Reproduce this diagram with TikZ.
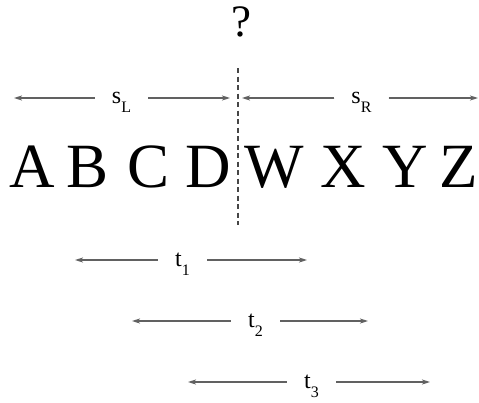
\documentclass[tikz,border=0pt]{standalone}
\usepackage{fontspec}
\setmainfont{Liberation Serif}
\usetikzlibrary{arrows.meta}

\newcommand{\lowsub}[1]{\smash{\raisebox{-9pt}{\fontsize{16}{16}\selectfont #1}}}

\begin{document}
\begin{tikzpicture}[x=1pt, y=-1pt, >={Stealth[length=8pt, width=5pt, inset=2pt]},
  spanlabel/.style={inner xsep=17pt, inner ysep=0pt, font=\fontsize{24}{24}\selectfont},
  spanarrow/.style={->, line width=1.3pt, draw=black!62, fill=black!62},
  letter/.style={anchor=base, inner sep=0pt, font=\fontsize{63}{63}\selectfont}]

\definecolor{splitcolor}{RGB}{70, 70, 70}

\useasboundingbox (0, 0) rectangle (479, 402);

\node[anchor=base, inner sep=0pt, font=\fontsize{45}{45}\selectfont] (query) at (241, 36) {?};

% the split between left and right halves
\coordinate (splittop) at (238, 68);
\coordinate (splitbot) at (238, 225);
\draw[dashed, dash pattern=on 5pt off 3.5pt, line width=1.1pt, splitcolor] (splittop) -- (splitbot);

% letters
\node[letter] (lA) at (32, 187) {A};
\node[letter] (lB) at (88, 187) {B};
\node[letter] (lC) at (149, 187) {C};
\node[letter] (lD) at (208, 187) {D};
\node[letter] (lW) at (274, 187) {W};
\node[letter] (lX) at (343, 187) {X};
\node[letter] (lY) at (405, 187) {Y};
\node[letter] (lZ) at (459, 187) {Z};

% spans above
\node[spanlabel] (sL) at (121.5, 98) {s\lowsub{L}};
\coordinate (sLleft) at (14, 98);
\coordinate (sLright) at (230, 98);
\draw[spanarrow] (sL.west) -- (sLleft);
\draw[spanarrow] (sL.east) -- (sLright);

\node[spanlabel] (sR) at (361.5, 98) {s\lowsub{R}};
\coordinate (sRleft) at (242, 98);
\coordinate (sRright) at (478, 98);
\draw[spanarrow] (sR.west) -- (sRleft);
\draw[spanarrow] (sR.east) -- (sRright);

% spans below
\node[spanlabel] (t1) at (182.5, 260) {t\lowsub{1}};
\coordinate (t1left) at (75, 260);
\coordinate (t1right) at (307, 260);
\draw[spanarrow] (t1.west) -- (t1left);
\draw[spanarrow] (t1.east) -- (t1right);

\node[spanlabel] (t2) at (255.5, 321) {t\lowsub{2}};
\coordinate (t2left) at (132, 321);
\coordinate (t2right) at (368, 321);
\draw[spanarrow] (t2.west) -- (t2left);
\draw[spanarrow] (t2.east) -- (t2right);

\node[spanlabel] (t3) at (311.5, 382) {t\lowsub{3}};
\coordinate (t3left) at (188, 382);
\coordinate (t3right) at (430, 382);
\draw[spanarrow] (t3.west) -- (t3left);
\draw[spanarrow] (t3.east) -- (t3right);

\end{tikzpicture}
\end{document}
